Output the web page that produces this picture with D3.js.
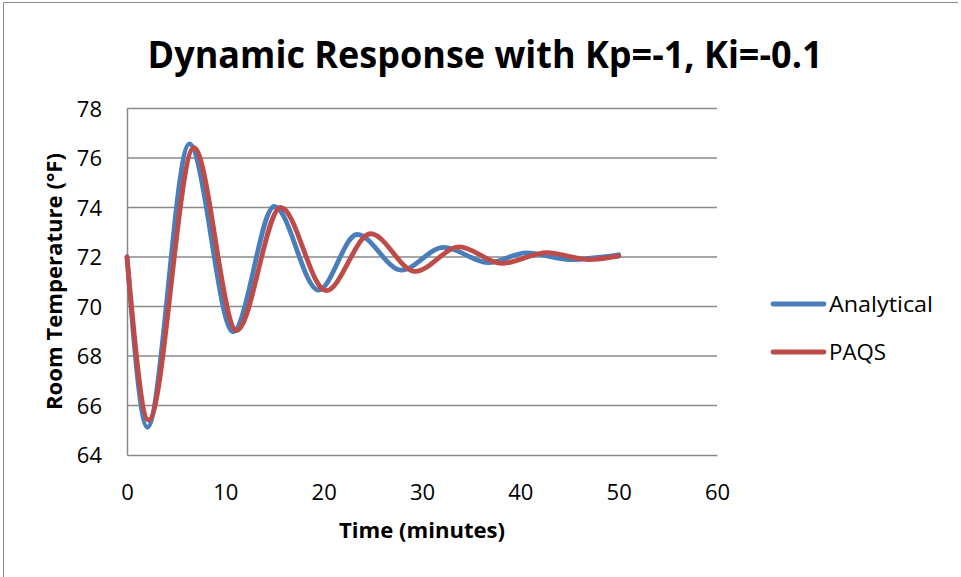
<!DOCTYPE html>
<html>
<head>
<meta charset="utf-8">
<script src="https://cdn.jsdelivr.net/npm/d3@7"></script>
<style>
  html, body { margin: 0; padding: 0; background: #fff; }
  svg { display: block; }
</style>
</head>
<body>
<svg id="chart" width="961" height="577"></svg>
<script>
// ---- Data ----
const titleText = "Dynamic Response with Kp=-1, Ki=-0.1";
const xTitle = "Time (minutes)";
const yTitle = "Room Temperature (°F)";
const seriesNames = ["Analytical", "PAQS"];
const legendWidths = [104, 57];
const xTicks = [0, 10, 20, 30, 40, 50, 60];
const yTicks = [64, 66, 68, 70, 72, 74, 76, 78];

// Analytical: start, successive extrema, end
const analyticalT = [0, 2.07, 6.34, 10.8, 14.98, 19.46, 23.4, 27.9, 32.2, 36.8, 40.6, 45.05, 50];
const analyticalV = [72.0, 65.12, 76.57, 68.98, 74.04, 70.66, 72.91, 71.47, 72.39, 71.77, 72.17, 71.90, 72.09];
// PAQS: start, successive extrema, end
const paqsT = [0, 2.2, 6.8, 11.15, 15.63, 20.24, 24.78, 29.3, 33.8, 38.1, 42.7, 46.9, 50];
const paqsV = [72.0, 65.41, 76.42, 69.03, 74.0, 70.64, 72.94, 71.42, 72.41, 71.74, 72.18, 71.90, 72.04];

const seriesColors = ["#4A7EBB", "#BE4B48"];

// ---- Layout ----
const svg = d3.select("#chart");
const plot = { left: 127, right: 717, top: 108.5, bottom: 455 };
const FONT = "'Open Sans', 'Noto Sans', sans-serif";

const x = d3.scaleLinear().domain([0, 60]).range([plot.left, plot.right]);
const y = d3.scaleLinear().domain([64, 78]).range([plot.bottom, plot.top]);

// outer frame (left + top edges visible in reference)
svg.append("path")
  .attr("d", "M3.5,577 V2.5 H958")
  .attr("fill", "none").attr("stroke", "#8c8c8c").attr("stroke-width", 1);

// gridlines
svg.append("g")
  .selectAll("line").data(yTicks.filter(d => d !== 64)).join("line")
  .attr("x1", plot.left).attr("x2", plot.right)
  .attr("y1", d => y(d)).attr("y2", d => y(d))
  .attr("stroke", "#8a8a8a").attr("stroke-width", 1.5);

// axes
const yAxis = d3.axisLeft(y).tickValues(yTicks).tickSize(0).tickPadding(25);
const xAxis = d3.axisBottom(x).tickValues(xTicks).tickSize(0).tickPadding(0);

const gy = svg.append("g").attr("transform", `translate(${plot.left},0)`).call(yAxis);
gy.select(".domain").attr("stroke", "#8a8a8a").attr("stroke-width", 1.5);
gy.selectAll("text")
  .attr("font-family", FONT).attr("font-size", 22).attr("fill", "#000")
  .attr("x", -25).attr("dy", "0.36em");

const gx = svg.append("g").attr("transform", `translate(0,${plot.bottom})`).call(xAxis);
gx.select(".domain").attr("stroke", "#8a8a8a").attr("stroke-width", 1.5);
gx.selectAll("text")
  .attr("font-family", FONT).attr("font-size", 22).attr("fill", "#000")
  .attr("y", 45).attr("dy", 0);

// series
const line = d3.line().x(d => x(d[0])).y(d => y(d[1])).curve(d3.curveMonotoneX);
const series = [
  d3.zip(analyticalT, analyticalV),
  d3.zip(paqsT, paqsV)
];
svg.append("g").selectAll("path").data(series).join("path")
  .attr("d", line)
  .attr("fill", "none")
  .attr("stroke", (d, i) => seriesColors[i])
  .attr("stroke-width", 4.8)
  .attr("stroke-linejoin", "round")
  .attr("stroke-linecap", "round");

// title
svg.append("text")
  .attr("x", 485).attr("y", 68).attr("text-anchor", "middle")
  .attr("font-family", FONT).attr("font-weight", "bold").attr("font-size", 37)
  .attr("textLength", 675).attr("lengthAdjust", "spacingAndGlyphs")
  .text(titleText);

// x title
svg.append("text")
  .attr("x", 422).attr("y", 538).attr("text-anchor", "middle")
  .attr("font-family", FONT).attr("font-weight", "bold").attr("font-size", 22)
  .attr("textLength", 166).attr("lengthAdjust", "spacingAndGlyphs")
  .text(xTitle);

// y title
svg.append("text")
  .attr("transform", "translate(62,281.5) rotate(-90)")
  .attr("text-anchor", "middle")
  .attr("font-family", FONT).attr("font-weight", "bold").attr("font-size", 22)
  .attr("textLength", 257).attr("lengthAdjust", "spacingAndGlyphs")
  .text(yTitle);

// legend
const legendY = [304, 352];
const lg = svg.append("g").selectAll("g").data(seriesNames).join("g")
  .attr("transform", (d, i) => `translate(0,${legendY[i]})`);
lg.append("line")
  .attr("x1", 773).attr("x2", 824).attr("y1", 0).attr("y2", 0)
  .attr("stroke", (d, i) => seriesColors[i]).attr("stroke-width", 4.8)
  .attr("stroke-linecap", "round");
lg.append("text")
  .attr("x", 829).attr("y", 8)
  .attr("font-family", FONT).attr("font-size", 22).attr("fill", "#000")
  .attr("textLength", (d, i) => legendWidths[i]).attr("lengthAdjust", "spacingAndGlyphs")
  .text(d => d);
</script>
</body>
</html>
